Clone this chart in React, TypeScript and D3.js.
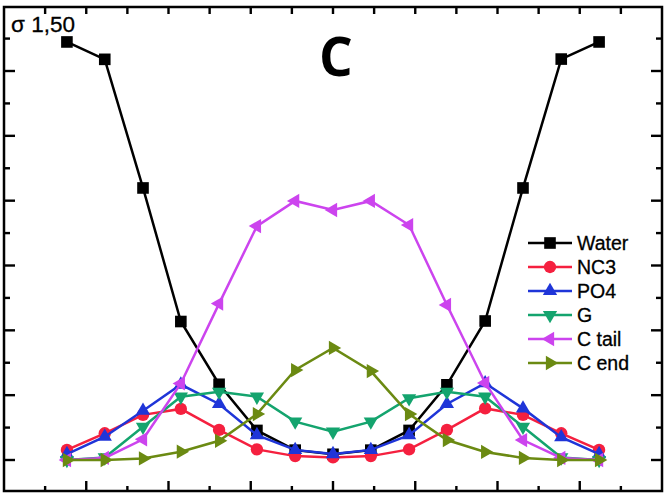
import React, { useEffect, useRef } from 'react';
import * as d3 from 'd3';

// bin positions along the normal (arbitrary units, centred on 0)
const positions = [-6.47, -5.55, -4.62, -3.7, -2.77, -1.85, -0.92, 0, 0.92, 1.85, 2.77, 3.7, 4.62, 5.55, 6.47];

const water = [1.612, 1.545, 1.049, 0.534, 0.292, 0.114, 0.038, 0.022, 0.038, 0.114, 0.290, 0.536, 1.049, 1.546, 1.612];
const nc3 = [0.039, 0.103, 0.174, 0.197, 0.116, 0.041, 0.015, 0.010, 0.015, 0.041, 0.116, 0.199, 0.174, 0.103, 0.039];
const po4 = [0.023, 0.090, 0.190, 0.291, 0.216, 0.096, 0.039, 0.023, 0.039, 0.096, 0.216, 0.296, 0.199, 0.088, 0.023];
const glyc = [0.0, 0.010, 0.128, 0.244, 0.263, 0.244, 0.148, 0.109, 0.148, 0.238, 0.263, 0.244, 0.128, 0.010, 0.0];
const cTail = [0.0, 0.008, 0.080, 0.295, 0.603, 0.902, 0.999, 0.964, 0.999, 0.906, 0.598, 0.297, 0.077, 0.008, 0.0];
const cEnd = [0.0, 0.0, 0.006, 0.032, 0.074, 0.177, 0.347, 0.432, 0.343, 0.177, 0.077, 0.031, 0.008, 0.0, 0.0];

const seriesNames = ['Water', 'NC3', 'PO4', 'G', 'C tail', 'C end'];
const seriesColors = ['#000000', '#f5203f', '#1f35d8', '#14a46e', '#cc44ee', '#6b8a12'];
const seriesValues = [water, nc3, po4, glyc, cTail, cEnd];

const xTicks = d3.range(-7, 8, 1);
const yTicks = d3.range(0, 1.75, 0.125);

const App = () => {
  const svgRef = useRef<SVGSVGElement>(null);

  useEffect(() => {
    const svg = d3.select(svgRef.current);
    svg.selectAll('*').remove();

    const width = 666;
    const height = 497;
    const frame = { left: 4, right: 662, top: 7, bottom: 491 };

    const x = d3.scaleLinear().domain([-8, 8]).range([frame.left, frame.right]);
    const y = d3.scaleLinear().domain([0, 1.5]).range([460, 71]);

    svg.attr('viewBox', [0, 0, width, height]);

    svg.append('rect')
      .attr('width', width).attr('height', height).attr('fill', 'white');

    const markers = [
      { type: d3.symbolSquare, size: 135, rot: 0 },
      { type: d3.symbolCircle, size: 120, rot: 0 },
      { type: d3.symbolTriangle, size: 88, rot: 0 },
      { type: d3.symbolTriangle, size: 88, rot: 180 },
      { type: d3.symbolTriangle, size: 88, rot: -90 },
      { type: d3.symbolTriangle, size: 88, rot: 90 },
    ];

    const line = d3.line<[number, number]>()
      .x(d => x(d[0]))
      .y(d => y(d[1]));

    seriesValues.forEach((vals, s) => {
      const pts: [number, number][] = vals.map((v, i) => [positions[i], v]);
      const g = svg.append('g');
      g.append('path')
        .attr('d', line(pts))
        .attr('fill', 'none')
        .attr('stroke', seriesColors[s])
        .attr('stroke-width', 2.5);
      const m = markers[s];
      g.selectAll('path.mk')
        .data(pts)
        .join('path')
        .attr('class', 'mk')
        .attr('d', d3.symbol().type(m.type).size(m.size)())
        .attr('transform', d => `translate(${x(d[0])},${y(d[1])}) rotate(${m.rot})`)
        .attr('fill', seriesColors[s]);
    });

    // frame
    svg.append('rect')
      .attr('x', frame.left).attr('y', frame.top)
      .attr('width', frame.right - frame.left)
      .attr('height', frame.bottom - frame.top)
      .attr('fill', 'none')
      .attr('stroke', 'black')
      .attr('stroke-width', 2.5);

    // inward ticks on all four sides
    const ticks = svg.append('g').attr('stroke', 'black').attr('stroke-width', 2.4);
    xTicks.forEach(t => {
      const major = t % 2 === 0;
      ticks.append('line')
        .attr('x1', x(t)).attr('x2', x(t))
        .attr('y1', frame.bottom).attr('y2', frame.bottom - (major ? 10 : 5));
      ticks.append('line')
        .attr('x1', x(t)).attr('x2', x(t))
        .attr('y1', frame.top).attr('y2', frame.top + 7);
    });
    yTicks.forEach((t, i) => {
      const major = i % 2 === 0;
      const len = major ? 11 : 6;
      ticks.append('line')
        .attr('x1', frame.left).attr('x2', frame.left + len)
        .attr('y1', y(t)).attr('y2', y(t));
      ticks.append('line')
        .attr('x1', frame.right).attr('x2', frame.right - len)
        .attr('y1', y(t)).attr('y2', y(t));
    });

    svg.append('text')
      .attr('x', 11).attr('y', 32)
      .attr('font-family', 'Liberation Sans, Arial, sans-serif')
      .attr('font-size', 22.5)
      .attr('stroke', 'black').attr('stroke-width', 0.3)
      .text('σ 1,50');

    svg.append('text')
      .attr('x', 336).attr('y', 76)
      .attr('text-anchor', 'middle')
      .attr('font-family', 'Open Sans, sans-serif')
      .attr('font-weight', 700)
      .attr('font-size', 53)
      .text('C');

    // legend
    const legend = svg.append('g').attr('transform', 'translate(528,243)');
    seriesNames.forEach((name, s) => {
      const row = legend.append('g').attr('transform', `translate(0,${s * 24})`);
      row.append('line')
        .attr('x1', 0).attr('x2', 44)
        .attr('stroke', seriesColors[s]).attr('stroke-width', 2.5);
      const m = markers[s];
      row.append('path')
        .attr('d', d3.symbol().type(m.type).size(m.size)())
        .attr('transform', `translate(22,0) rotate(${m.rot})`)
        .attr('fill', seriesColors[s]);
      row.append('text')
        .attr('x', 49).attr('y', 7)
        .attr('font-family', 'Liberation Sans, Arial, sans-serif')
        .attr('font-size', 19.5)
        .attr('stroke', 'black').attr('stroke-width', 0.3)
        .text(name);
    });
  }, []);

  return (
    <svg
      ref={svgRef}
      width={666}
      height={497}
      style={{ position: 'absolute', left: 0, top: 0 }}
    />
  );
};

export default App;
